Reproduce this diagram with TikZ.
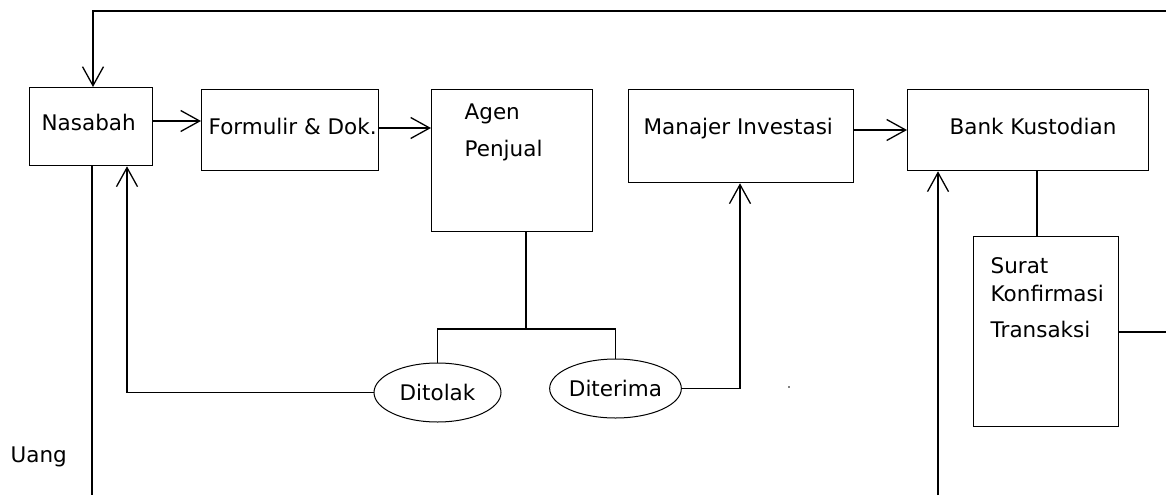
\documentclass[tikz,border=0pt]{standalone}
\usepackage{fontspec}
\setmainfont{DejaVu Sans}
\usetikzlibrary{arrows.meta,shapes.geometric}
\begin{document}
\begin{tikzpicture}[x=1pt,y=-1pt, line width=1.3pt,
  box/.style={draw, rectangle, inner sep=0pt, anchor=north west},
  lbl/.style={anchor=base west, inner sep=0pt, font=\fontsize{21.5}{26}\selectfont},
  oval/.style={draw, ellipse, inner sep=0pt, line width=1pt, minimum width=127pt, minimum height=59pt, font=\fontsize{21.5}{26}\selectfont},
  arr/.style={-{Straight Barb[length=19pt,width=21pt,line width=1.3pt]}}]
\useasboundingbox (0,0) rectangle (1166,495);

% boxes
\node[box, minimum width=123pt, minimum height=78pt]  (nasabah)  at (29,87)  {};
\node[box, minimum width=177pt, minimum height=81pt]  (formulir) at (201,89) {};
\node[box, minimum width=161pt, minimum height=142pt] (agen)     at (431,89) {};
\node[box, minimum width=225pt, minimum height=93pt]  (manajer)  at (628,89) {};
\node[box, minimum width=241pt, minimum height=81pt]  (bank)     at (907,89) {};
\node[box, minimum width=145pt, minimum height=190pt] (surat)    at (973,236) {};

% texts
\node[lbl] (tnasabah)  at (41,130)  {Nasabah};
\node[lbl] (tformulir) at (208,134) {Formulir \& Dok.};
\node[lbl] (tagen1)    at (464,119) {Agen};
\node[lbl] (tagen2)    at (464,156) {Penjual};
\node[lbl] (tmanajer)  at (643,134) {Manajer Investasi};
\node[lbl] (tbank)     at (949,134) {Bank Kustodian};
\node[lbl] (tsurat1)   at (990,273) {Surat};
\node[lbl] (tsurat2)   at (990,301) {Konfirmasi};
\node[lbl] (tsurat3)   at (990,337) {Transaksi};
\node[lbl] (tuang)     at (10,462)  {Uang};

% ovals
\node[oval] (ditolak)  at (437.5,392.5) {Ditolak};
\node[oval] (diterima) at (615.5,388.5) {Diterima};

% free-end coordinates
\coordinate (topR)    at (1166,11);
\coordinate (topL)    at (93,11);
\coordinate (uangEnd) at (92,495);
\coordinate (fork)    at (526,329);
\coordinate (bankIn)  at (938,495);
\coordinate (rightEnd) at (1166,332);

% connectors
\draw[arr] (topR) -- (topL) -- (topL |- nasabah.north);
\draw[arr] (nasabah.east |- 0,121) -- (formulir.west |- 0,121);
\draw[arr] (formulir.east |- 0,128) -- (agen.west |- 0,128);
\draw[arr] (manajer.east |- 0,130) -- (bank.west |- 0,130);
\draw (nasabah.south -| uangEnd) -- (uangEnd);
\draw[arr] (ditolak.west) -| (nasabah.south -| 127,0);
\draw (agen.south -| fork) -- (fork);
\draw (ditolak.north) |- (fork) -| (diterima.north);
\draw[arr] (diterima.east) -| (manajer.south -| 740,0);
\draw[arr] (bankIn) -- (bank.south -| bankIn);
\draw (bank.south -| 1037,0) -- (surat.north -| 1037,0);
\draw (surat.east |- rightEnd) -- (rightEnd);

% stray dot
\fill (789,387) circle (0.8pt);
\end{tikzpicture}
\end{document}
